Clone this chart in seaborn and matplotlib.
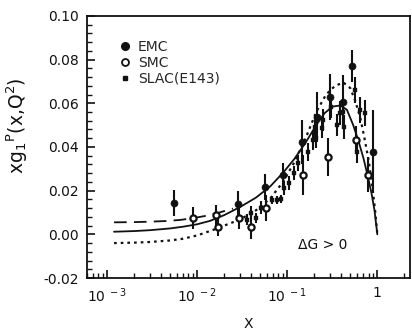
import numpy as np
import pandas as pd
import matplotlib
matplotlib.use("Agg")
import matplotlib.pyplot as plt
import seaborn as sns
from matplotlib.ticker import MultipleLocator, FixedLocator, FixedFormatter, FormatStrFormatter, NullFormatter
from matplotlib.lines import Line2D

# ---------------- data ----------------
emc_x = [0.0056, 0.0286, 0.057, 0.090, 0.147, 0.216, 0.300, 0.419, 0.527, 0.903]
emc_y = [0.0143, 0.0139, 0.0217, 0.0272, 0.0423, 0.0537, 0.0629, 0.0606, 0.0771, 0.0377]
emc_e = [0.0060, 0.0060, 0.0060, 0.0055, 0.0100, 0.0115, 0.0105, 0.0125, 0.0075, 0.0190]

smc_x = [0.0090, 0.0163, 0.0171, 0.0292, 0.0400, 0.0580, 0.148, 0.2855, 0.575, 0.794]
smc_y = [0.0075, 0.0088, 0.0033, 0.0075, 0.0033, 0.0121, 0.0272, 0.0354, 0.0432, 0.0272]
smc_e = [0.0050, 0.0045, 0.0040, 0.0050, 0.0055, 0.0060, 0.0090, 0.0087, 0.0065, 0.0080]

slac_x = [0.036, 0.0398, 0.0453, 0.0514, 0.068, 0.0774, 0.0858, 0.091, 0.105, 0.1196,
          0.1325, 0.171, 0.1945, 0.205, 0.207, 0.245, 0.250, 0.305, 0.360, 0.388,
          0.420, 0.430, 0.570, 0.600, 0.647, 0.736]
slac_y = [0.0066, 0.0098, 0.0075, 0.0121, 0.0157, 0.0157, 0.0162, 0.0212, 0.0235, 0.0281,
          0.0327, 0.0377, 0.0432, 0.0492, 0.0441, 0.0487, 0.0524, 0.0583, 0.0501, 0.0556,
          0.0560, 0.0492, 0.0661, 0.0377, 0.0569, 0.0556]
slac_e = [0.0025, 0.0030, 0.0025, 0.0030, 0.0020, 0.0020, 0.0020, 0.0030, 0.0030, 0.0030,
          0.0035, 0.0040, 0.0045, 0.0050, 0.0045, 0.0045, 0.0050, 0.0050, 0.0050, 0.0055,
          0.0055, 0.0055, 0.0060, 0.0050, 0.0060, 0.0060]

# curves (read points)
solid_x = [0.0012, 0.002, 0.003, 0.005, 0.007, 0.010, 0.014, 0.020, 0.030, 0.045, 0.065,
           0.090, 0.120, 0.160, 0.210, 0.260, 0.320, 0.390, 0.460, 0.540, 0.620, 0.700,
           0.780, 0.860, 0.930, 1.0]
solid_y = [0.0012, 0.0015, 0.0019, 0.0027, 0.0035, 0.0046, 0.0062, 0.0088, 0.0125, 0.0168,
           0.0220, 0.0282, 0.0345, 0.0420, 0.0500, 0.0555, 0.0585, 0.0590, 0.0570, 0.0500,
           0.0425, 0.0350, 0.0270, 0.0190, 0.0110, 0.0]

dot_x = [0.0012, 0.002, 0.003, 0.005, 0.007, 0.010, 0.015, 0.020, 0.030, 0.045, 0.065,
         0.090, 0.120, 0.160, 0.210, 0.270, 0.340, 0.420, 0.500, 0.570, 0.650, 0.720,
         0.800, 0.880, 0.950, 1.0]
dot_y = [-0.0040, -0.0038, -0.0035, -0.0028, -0.0020, -0.0005, 0.0020, 0.0040, 0.0068, 0.0110,
         0.0165, 0.0240, 0.0330, 0.0440, 0.0560, 0.0640, 0.0680, 0.0695, 0.0670, 0.0610,
         0.0530, 0.0440, 0.0340, 0.0220, 0.0100, 0.0]

dash_x = [0.0012, 0.002, 0.003, 0.0045, 0.0065, 0.009, 0.013, 0.018, 0.025]
dash_y = [0.0055, 0.0056, 0.0058, 0.0061, 0.0066, 0.0074, 0.0086, 0.0101, 0.0118]

legend_labels = ["EMC", "SMC", "SLAC(E143)"]
xtick_vals = [1e-3, 1e-2, 1e-1, 1]
xtick_labels = [r"$10^{\ -3}$", r"$10^{\ -2}$", r"$10^{\ -1}$", "1"]

# ---------------- style ----------------
sns.set_style("ticks")
plt.rcParams['font.family'] = ['DejaVu Sans']
plt.rcParams['mathtext.fontset'] = 'dejavusans'
plt.rcParams['mathtext.default'] = 'regular'
plt.rcParams['axes.unicode_minus'] = False

fig = plt.figure(figsize=(4.12, 3.31), dpi=100)
ax = fig.add_axes([0.211, 0.160, 0.784, 0.792])

ink = "#111111"

# curves
sns.lineplot(x=solid_x, y=solid_y, ax=ax, color=ink, lw=1.3, sort=False, estimator=None)
sns.lineplot(x=dot_x, y=dot_y, ax=ax, color=ink, lw=1.6, sort=False, estimator=None,
             linestyle=(0, (1.2, 1.8)))
sns.lineplot(x=dash_x, y=dash_y, ax=ax, color=ink, lw=1.3, sort=False, estimator=None,
             linestyle=(0, (7, 4)))

# error bars
for xs, ys, es in [(emc_x, emc_y, emc_e), (smc_x, smc_y, smc_e), (slac_x, slac_y, slac_e)]:
    ax.errorbar(xs, ys, yerr=es, fmt='none', ecolor=ink, elinewidth=1.5, capsize=0, zorder=3)

# markers
sns.scatterplot(x=emc_x, y=emc_y, ax=ax, marker='o', s=26, color=ink, edgecolor=ink, zorder=4)
sns.scatterplot(x=smc_x, y=smc_y, ax=ax, marker='o', s=20, facecolor='white', edgecolor=ink,
                linewidth=1.6, zorder=4)
sns.scatterplot(x=slac_x, y=slac_y, ax=ax, marker='s', s=10, color=ink, edgecolor=ink, zorder=4)

ax.set_xscale('log')
ax.set_xlim(6.0e-4, 2.3)
ax.set_ylim(-0.02, 0.10)

ax.xaxis.set_major_locator(FixedLocator(xtick_vals))
ax.xaxis.set_major_formatter(FixedFormatter(xtick_labels))
minor = [m * 10.0 ** k for k in range(-4, 1) for m in range(2, 10)]
ax.xaxis.set_minor_locator(FixedLocator(minor))
ax.xaxis.set_minor_formatter(NullFormatter())

ax.yaxis.set_major_locator(MultipleLocator(0.02))
ax.yaxis.set_minor_locator(MultipleLocator(0.004))
ax.yaxis.set_major_formatter(FormatStrFormatter('%.2f'))

ax.tick_params(which='both', direction='in', top=False, right=False, color=ink)
ax.tick_params(which='major', length=6, width=1.2, labelsize=10, colors=ink, pad=6)
ax.tick_params(which='minor', length=3.5, width=1.0)
for s in ax.spines.values():
    s.set_linewidth(1.3)
    s.set_color(ink)

ax.set_xlabel("X", fontsize=10, color=ink, labelpad=9)
ax.set_ylabel(r"xg$_1$$^{\mathrm{P}}$(x,Q$^2$)", fontsize=13.5, color=ink)
ax.yaxis.set_label_coords(-0.175, 0.58)

ax.text(0.245, -0.005, "ΔG > 0", ha='center', va='center', fontsize=10, color=ink)

handles = [
    Line2D([], [], marker='o', ls='none', color=ink, markersize=5.5),
    Line2D([], [], marker='o', ls='none', markerfacecolor='white', markeredgecolor=ink,
           markeredgewidth=1.3, markersize=5),
    Line2D([], [], marker='s', ls='none', color=ink, markersize=3),
]
ax.legend(handles, legend_labels, loc='upper left', bbox_to_anchor=(0.08, 0.93), frameon=False,
          fontsize=10, handletextpad=0.4, labelspacing=0.15, handlelength=1.0, borderaxespad=0)

fig.savefig("out.png", dpi=100)
